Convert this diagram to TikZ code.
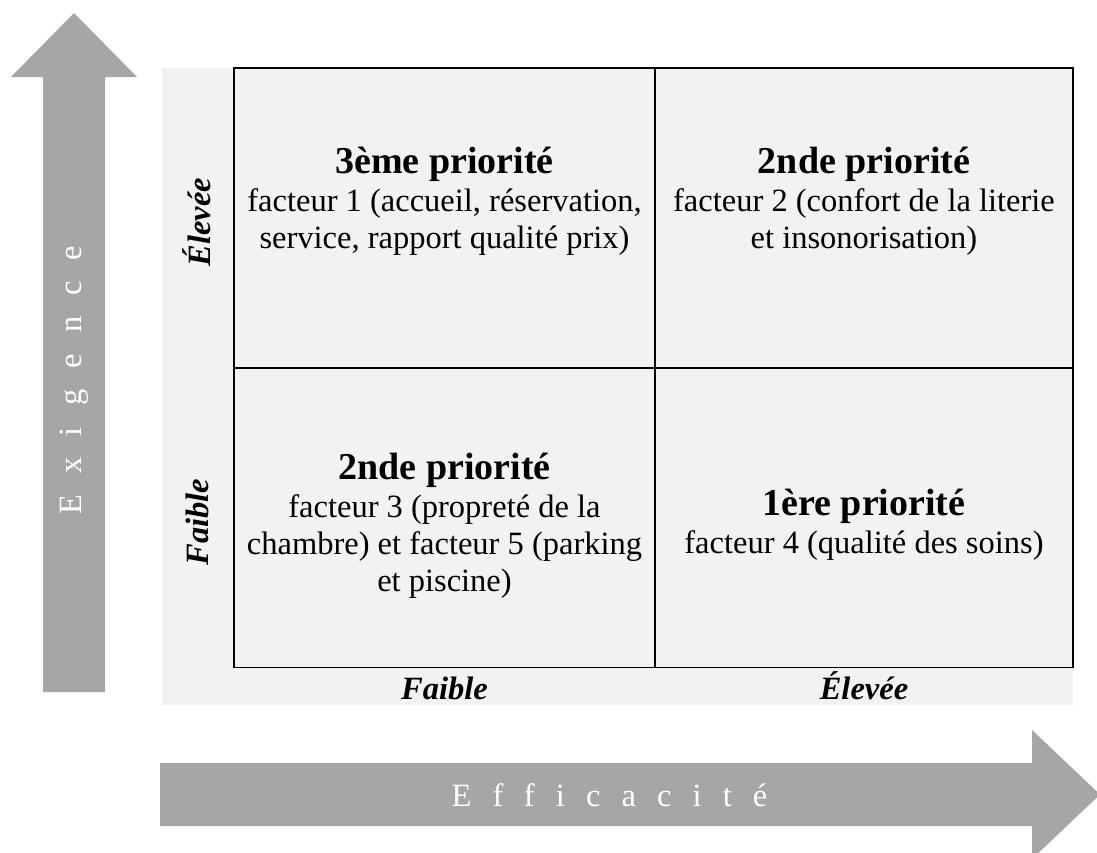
\documentclass[tikz,border=0pt]{standalone}
\usepackage{fontspec}
\setmainfont{Liberation Serif}
\usetikzlibrary{positioning}
\definecolor{arrowgray}{HTML}{A6A6A6}
\definecolor{panelgray}{HTML}{F2F2F2}

\begin{document}
\begin{tikzpicture}[x=1pt, y=-1pt,
  cell/.style={draw=black, line width=1.6pt, minimum width=#1, minimum height=300pt, inner sep=0pt},
  titre/.style={font=\fontsize{38}{37}\selectfont\bfseries, inner sep=0pt, anchor=base},
  texte/.style={font=\fontsize{32.5}{37}\selectfont, align=center, inner sep=0pt},
  niveau/.style={font=\fontsize{32.5}{37}\selectfont\bfseries\itshape, inner sep=0pt},
  axe/.style={text=white, inner sep=0pt, font=\fontsize{32.5}{37}\selectfont\addfontfeature{LetterSpace=65}}]

  \useasboundingbox (0,0) rectangle (1097,852);

  % fond et fleches
  \fill[panelgray] (162,68) rectangle (1073,705);
  \fill[arrowgray] (43,692) -- (43,77) -- (11,77) -- (74,13) -- (137,77) -- (105,77) -- (105,692) -- cycle;
  \fill[arrowgray] (160,763) -- (1032,763) -- (1032,730) -- (1100,794.5) -- (1032,859) -- (1032,826) -- (160,826) -- cycle;

  % matrice
  \node[cell=421pt] (hautgauche) at (444.5,218) {};
  \node[cell=418pt] (hautdroite) at (864,218) {};
  \node[cell=421pt] (basgauche) at (444.5,517.5) {};
  \node[cell=418pt] (basdroite) at (864,517.5) {};

  \node[titre] (t1) at (444.5,173.5) {3ème priorité};
  \node[texte, below=7pt of t1] (f1) {facteur 1 (accueil, réservation,\\service, rapport qualité prix)};
  \node[titre] (t2) at (864,173.5) {2nde priorité};
  \node[texte, below=7pt of t2] (f2) {facteur 2 (confort de la literie\\et insonorisation)};
  \node[titre] (t3) at (444.5,479.5) {2nde priorité};
  \node[texte, below=7pt of t3] (f3) {facteur 3 (propreté de la\\chambre) et facteur 5 (parking\\et piscine)};
  \node[titre] (t4) at (864,515.5) {1ère priorité};
  \node[texte, below=7pt of t4] (f4) {facteur 4 (qualité des soins)};

  % niveaux
  \node[niveau, rotate=90] (exhaut) at (197,222) {Élevée};
  \node[niveau, rotate=90] (exbas) at (197,522) {Faible};
  \node[niveau, anchor=base] (effbas) at (444.5,699) {Faible};
  \node[niveau, anchor=base] (effhaut) at (864,699) {Élevée};

  % axes
  \node[axe, rotate=90] (exigence) at (74,380) {Exigence};
  \node[axe] (efficacite) at (609.5,795) {Efficacité};
\end{tikzpicture}
\end{document}
